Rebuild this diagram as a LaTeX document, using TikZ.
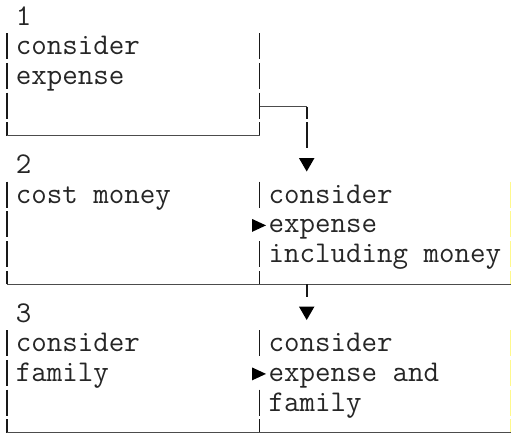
\documentclass[tikz,border=0pt]{standalone}
\usepackage{fontspec}
% grid: one character cell is 15.8 wide and 29.7 high; row k starts at 1+29.7k
\begin{document}
\begin{tikzpicture}[x=1pt,y=-1pt,
  txt/.style={anchor=base west,inner sep=0pt,outer sep=0pt,
    font=\ttfamily\fontsize{30.1}{29.7}\selectfont,text=black!85},
  bar/.style={line width=1.9pt,draw=black!90},
  edgebar/.style={line width=0.9pt,draw=yellow!45},
  rule/.style={line width=1.3pt,draw=black!70},
  tip/.style={fill=black}]
\useasboundingbox (0,0) rectangle (511,434);

% vertical bar columns
\def\xl{6.7}
\def\xm{259.5}
\def\xr{510.6}
\def\xa{306.7}

% full-height bar pieces, one per row
\foreach \k in {1,2,3}{
  \draw[bar] (\xl,{1+29.7*\k+2.5}) -- (\xl,{1+29.7*\k+28.5});
  \draw[bar] (\xm,{1+29.7*\k+2.5}) -- (\xm,{1+29.7*\k+28.5});
}
\foreach \k in {6,7,8,11,12,13}{
  \draw[bar] (\xl,{1+29.7*\k+2.5}) -- (\xl,{1+29.7*\k+28.5});
  \draw[edgebar] (\xr,{1+29.7*\k+2.5}) -- (\xr,{1+29.7*\k+28.5});
}
\foreach \k in {6,8,11,13}{
  \draw[bar] (\xm,{1+29.7*\k+2.5}) -- (\xm,{1+29.7*\k+28.5});
}
% short bar pieces down to the bottom rules
\foreach \k in {4,9,14}{
  \draw[bar] (\xl,{1+29.7*\k+2.5}) -- (\xl,{1+29.7*\k+16});
  \draw[bar] (\xm,{1+29.7*\k+2.5}) -- (\xm,{1+29.7*\k+16});
}
\foreach \k in {9,14}{
  \draw[edgebar] (\xr,{1+29.7*\k+2.5}) -- (\xr,{1+29.7*\k+16});
}

% bottom rules of the three boxes
\coordinate (r1a) at (\xl,{1+29.7*4+16});
\coordinate (r1b) at (\xm,{1+29.7*4+16});
\coordinate (r2a) at (\xl,{1+29.7*9+16});
\coordinate (r2b) at (511,{1+29.7*9+16});
\coordinate (r3a) at (\xl,{1+29.7*14+16});
\coordinate (r3b) at (511,{1+29.7*14+16});
\draw[rule] (r1a) -- (r1b);
\draw[rule] (r2a) -- (r2b);
\draw[rule] (r3a) -- (r3b);

% texts
\node[txt] (n1)  at (15.8,{25+29.7*0})  {1};
\node[txt] (a1)  at (15.8,{25+29.7*1})  {consider};
\node[txt] (a2)  at (15.8,{25+29.7*2})  {expense};
\node[txt] (n2)  at (15.8,{25+29.7*5})  {2};
\node[txt] (b1)  at (15.8,{25+29.7*6})  {cost money};
\node[txt] (c1)  at (268.6,{25+29.7*6}) {consider};
\node[txt] (c2)  at (268.6,{25+29.7*7}) {expense};
\node[txt] (c3)  at (268.6,{25+29.7*8}) {including money};
\node[txt] (n3)  at (15.8,{25+29.7*10}) {3};
\node[txt] (d1)  at (15.8,{25+29.7*11}) {consider};
\node[txt] (d2)  at (15.8,{25+29.7*12}) {family};
\node[txt] (e1)  at (268.6,{25+29.7*11}) {consider};
\node[txt] (e2)  at (268.6,{25+29.7*12}) {expense and};
\node[txt] (e3)  at (268.6,{25+29.7*13}) {family};

% connector from box 1 down to box 2
\coordinate (o1) at (\xm,{1+29.7*3+16.6});
\coordinate (j1) at (\xa,{1+29.7*3+16.6});
\coordinate (j1b) at (\xa,{1+29.7*4-0.5});
\coordinate (j1c) at (\xa,{1+29.7*4+2.5});
\coordinate (j1d) at (\xa,{1+29.7*4+28.5});
\draw[rule] (o1) -- (j1);
\draw[bar] (j1) -- (j1b);
\draw[bar] (j1c) -- (j1d);
\fill[tip] (\xa-7.8,{1+29.7*5+8.5}) -- (\xa+7.8,{1+29.7*5+8.5}) -- (\xa,{1+29.7*5+22}) -- cycle;

% connector from box 2 down to box 3
\coordinate (o2) at (\xa,{1+29.7*9+16});
\coordinate (j2) at (\xa,{1+29.7*9+28.5});
\draw[bar] (o2) -- (j2);
\fill[tip] (\xa-7.8,{1+29.7*10+8.5}) -- (\xa+7.8,{1+29.7*10+8.5}) -- (\xa,{1+29.7*10+22}) -- cycle;

% pointers from the left cells into the right cells
\foreach \k in {7,12}{
  \fill[tip] (252,{1+29.7*\k+10}) -- (266,{1+29.7*\k+16.5}) -- (252,{1+29.7*\k+23}) -- cycle;
}
\end{tikzpicture}
\end{document}
